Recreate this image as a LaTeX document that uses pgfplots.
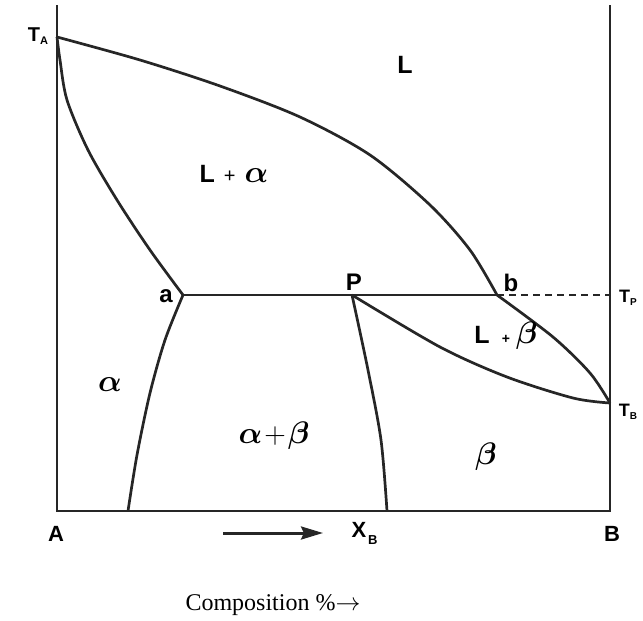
\documentclass[border=0pt]{standalone}
\usepackage{amsmath}
\usepackage{graphicx}
\usepackage{pgfplots}
\pgfplotsset{compat=1.18}
\usepackage{fontspec}
\setmainfont{Liberation Serif}
\newfontfamily\lab{Liberation Sans}
\usetikzlibrary{arrows.meta}
\newcommand{\ga}{\scalebox{1.25}{\fontsize{24}{24}\selectfont$\boldsymbol{\alpha}$}}
\newcommand{\gb}{\scalebox{1.25}{\fontsize{24}{24}\selectfont$\boldsymbol{\beta}$}}
\begin{document}
\begin{tikzpicture}
\begin{axis}[
  scale only axis, width=643pt, height=621pt,
  xmin=0, xmax=643, ymin=0, ymax=621, y dir=reverse,
  hide axis, clip=false,
  cycle list={{black!85, no markers}},
  every axis plot/.append style={line width=2.7pt, color=black!85, no markers},
]
\path[draw=none] (axis cs:0,0) rectangle (axis cs:643,621);
% frame
\addplot coordinates {(57,5) (57,511) (610,511) (610,5)};
% liquidus alpha
\addplot[smooth] coordinates {(57,37) (140,60) (220,86) (300,117) (370,155) (430,205) (470,250) (497,295)};
% solidus alpha
\addplot[smooth] coordinates {(57,37) (60,60) (67,100) (88,150) (117,200) (150,250) (183,295)};
% peritectic line
\addplot coordinates {(183,295) (497,295)};
\addplot[dash pattern=on 7pt off 5pt, line width=1.8pt] coordinates {(497,295) (610,295)};
% solvus alpha
\addplot[smooth] coordinates {(183,295) (165,340) (150,393) (137,455) (128,511)};
% beta boundary
\addplot[smooth] coordinates {(352,295) (368,370) (381,440) (387,511)};
% liquidus beta
\addplot[smooth] coordinates {(497,295) (553,337) (590,373) (610,403)};
% solidus beta
\addplot[smooth] coordinates {(352,295) (440,347) (507,377) (573,398) (610,403)};
% arrow
\addplot[-{Stealth[length=22pt,width=13pt,inset=3pt]}, line width=3pt] coordinates {(223,533) (323,533)};
% labels
\node[font=\lab\bfseries\fontsize{20}{20}\selectfont] at (axis cs:38,36) {T\raisebox{-0.35ex}{\fontsize{11}{11}\selectfont A}};
\node[font=\lab\bfseries\fontsize{25}{25}\selectfont] at (axis cs:405,65) {L};
\node[font=\lab\bfseries\fontsize{25}{25}\selectfont] at (axis cs:234,174) {L\hspace{9pt}{\mdseries\fontsize{20}{20}\selectfont +}\hspace{9pt}\ga};
\node[font=\lab\bfseries\fontsize{24}{24}\selectfont] at (axis cs:166,296) {a};
\node[font=\lab\bfseries\fontsize{24}{24}\selectfont] at (axis cs:354,282) {P};
\node[font=\lab\bfseries\fontsize{24}{24}\selectfont] at (axis cs:511,283) {b};
\node[font=\lab\bfseries\fontsize{18}{18}\selectfont] at (axis cs:628,298) {T\raisebox{-0.35ex}{\fontsize{10}{10}\selectfont P}};
\node[font=\lab\bfseries\fontsize{25}{25}\selectfont] at (axis cs:506,336) {L\hspace{12pt}{\fontsize{14}{14}\selectfont +}\hspace{6pt}\gb};
\node[font=\lab\bfseries\fontsize{18}{18}\selectfont] at (axis cs:628,412) {T\raisebox{-0.35ex}{\fontsize{10}{10}\selectfont B}};
\node at (axis cs:110,385) {\ga};
\node at (axis cs:274,436) {\ga\hspace{2pt}\scalebox{1.2}{\fontsize{24}{24}\selectfont$+$}\hspace{2pt}\gb};
\node at (axis cs:486,457) {\gb};
\node[font=\lab\bfseries\fontsize{22}{22}\selectfont] at (axis cs:56,534) {A};
\node[font=\lab\bfseries\fontsize{22}{22}\selectfont] at (axis cs:612,534) {B};
\node[font=\lab\bfseries\fontsize{22}{22}\selectfont, anchor=west] at (axis cs:348,533) {X\raisebox{-0.6ex}{\hspace{2pt}\fontsize{13}{13}\selectfont B}};
\node[font=\fontsize{24}{24}\selectfont] at (axis cs:273,605) {Composition \%$\rightarrow$};
\end{axis}
\end{tikzpicture}
\end{document}
